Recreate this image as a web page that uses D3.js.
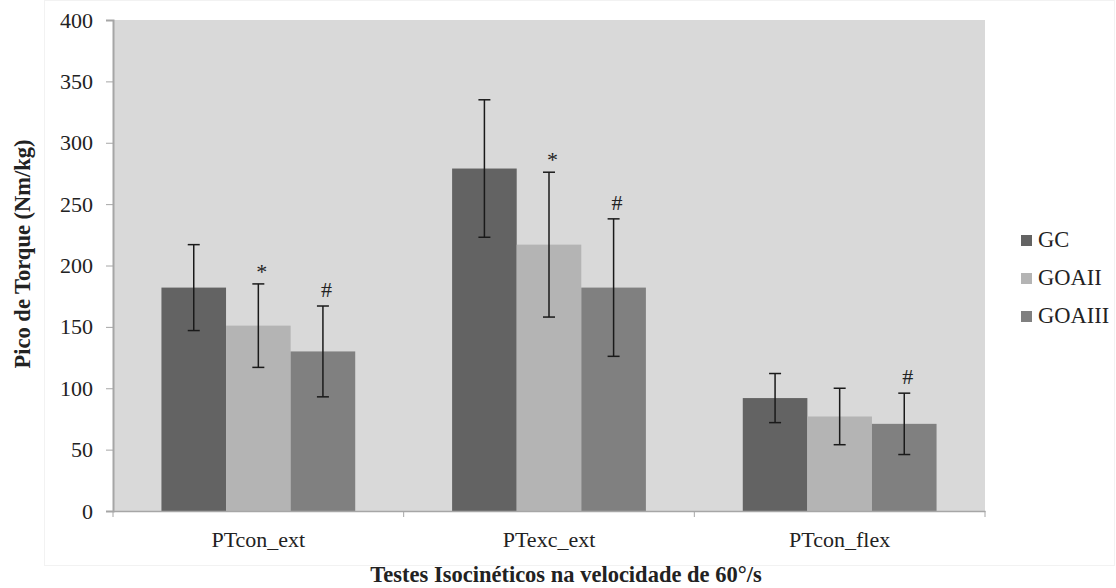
<!DOCTYPE html>
<html>
<head>
<meta charset="utf-8">
<script src="https://cdn.jsdelivr.net/npm/d3@7"></script>
<style>
  body { margin: 0; background: #fff; }
  text { font-family: "Liberation Serif", "Times New Roman", serif; fill: #222; }
</style>
</head>
<body>
<svg width="1116" height="588"></svg>
<script>
// data
var categories = ["PTcon_ext", "PTexc_ext", "PTcon_flex"];
var groups = ["GC", "GOAII", "GOAIII"];
var gcMean = [182, 279, 92];
var gcErr = [35, 56, 20];
var goa2Mean = [151, 217, 77];
var goa2Err = [34, 59, 23];
var goa3Mean = [130, 182, 71];
var goa3Err = [37, 56, 25];
// significance marks per group (by category)
var goa2Marks = ["*", "*", ""];
var goa3Marks = ["#", "#", "#"];
var yTicks = [0, 50, 100, 150, 200, 250, 300, 350, 400];
var colors = ["#636363", "#b4b4b4", "#808080"];

var means = [gcMean, goa2Mean, goa3Mean],
	errs = [gcErr, goa2Err, goa3Err],
	marks = [[], goa2Marks, goa3Marks];

var svg = d3.select("svg"),
	margin = {left: 113, right: 131, top: 20, bottom: 77},
	width = +svg.attr("width") - margin.left - margin.right,
	height = +svg.attr("height") - margin.top - margin.bottom;

// faint chart border
svg.append("rect").attr("x", 44.5).attr("y", 0.5).attr("width", 1070).attr("height", 565)
	.attr("fill", "none").attr("stroke", "#f2f2f2");

var g = svg.append("g").attr("transform", "translate(" + margin.left + "," + margin.top + ")");

var x0 = d3.scaleBand().domain(categories).range([0, width]).paddingInner(0).paddingOuter(0);
var x1 = d3.scaleBand().domain(groups).range([0, x0.bandwidth()]).paddingInner(0).paddingOuter(0.75);
var y = d3.scaleLinear().domain([0, 400]).range([height, 0]);

g.append("rect").attr("width", width).attr("height", height).attr("fill", "#d9d9d9");

var rows = [];
categories.forEach(function(c, i) {
	groups.forEach(function(s, j) {
		rows.push({cat: c, grp: s, j: j, v: means[j][i], e: errs[j][i], m: marks[j][i] || ""});
	});
});

g.append("g").selectAll("rect").data(rows).enter().append("rect")
	.attr("x", function(d) { return x0(d.cat) + x1(d.grp); })
	.attr("y", function(d) { return y(d.v); })
	.attr("width", x1.bandwidth())
	.attr("height", function(d) { return height - y(d.v); })
	.attr("fill", function(d) { return colors[d.j]; });

var eb = g.append("g").attr("stroke", "#1a1a1a").attr("stroke-width", 1.5)
	.selectAll("g").data(rows).enter().append("g")
	.attr("transform", function(d) { return "translate(" + (x0(d.cat) + x1(d.grp) + x1.bandwidth() / 2) + ",0)"; });
eb.append("line").attr("y1", function(d) { return y(d.v + d.e); }).attr("y2", function(d) { return y(d.v - d.e); });
eb.append("line").attr("x1", -6).attr("x2", 6).attr("y1", function(d) { return y(d.v + d.e); }).attr("y2", function(d) { return y(d.v + d.e); });
eb.append("line").attr("x1", -6).attr("x2", 6).attr("y1", function(d) { return y(d.v - d.e); }).attr("y2", function(d) { return y(d.v - d.e); });

g.append("g").selectAll("text").data(rows.filter(function(d) { return d.m; })).enter().append("text")
	.attr("x", function(d) { return x0(d.cat) + x1(d.grp) + x1.bandwidth() / 2 + 3.5; })
	.attr("y", function(d) { return y(d.v + d.e) - (d.m == "*" ? 5 : 9); })
	.attr("text-anchor", "middle")
	.style("font-size", "22px")
	.text(function(d) { return d.m; });

// axes
var yAxis = g.append("g").attr("font-family", "Liberation Serif")
	.call(d3.axisLeft(y).tickValues(yTicks).tickSize(7).tickPadding(13));
yAxis.attr("font-family", "Liberation Serif");
yAxis.select(".domain").attr("stroke", "#a6a6a6").attr("stroke-width", 2);
yAxis.selectAll(".tick line").attr("stroke", "#a6a6a6");
yAxis.selectAll("text").style("font-size", "22px").attr("fill", "#222").style("font-family", "Liberation Serif");

var xAxis = g.append("g").attr("transform", "translate(0," + height + ")")
	.call(d3.axisBottom(x0).tickSize(0).tickPadding(20));
xAxis.attr("font-family", "Liberation Serif");
xAxis.select(".domain").attr("stroke", "#a6a6a6").attr("stroke-width", 1.5);
xAxis.selectAll("text").style("font-size", "22px").attr("fill", "#222").style("font-family", "Liberation Serif");
xAxis.append("g").selectAll("line").data(d3.range(categories.length + 1)).enter().append("line")
	.attr("x1", function(i) { return i * x0.step(); }).attr("x2", function(i) { return i * x0.step(); })
	.attr("y1", 0).attr("y2", 6).attr("stroke", "#a6a6a6");

svg.append("text").attr("x", margin.left + width / 2 + 17).attr("y", 582)
	.attr("text-anchor", "middle").style("font-size", "22.5px").style("font-weight", "bold")
	.text("Testes Isocinéticos na velocidade de 60°/s");

svg.append("text").attr("transform", "translate(30,254) rotate(-90)")
	.attr("text-anchor", "middle").style("font-size", "22.5px").style("font-weight", "bold")
	.text("Pico de Torque (Nm/kg)");

// legend
var leg = svg.append("g").selectAll("g").data(groups).enter().append("g")
	.attr("transform", function(d, i) { return "translate(1021," + (247 + i * 38) + ")"; });
leg.append("rect").attr("x", 0).attr("y", -12).attr("width", 11).attr("height", 11)
	.attr("fill", function(d, i) { return colors[i]; });
leg.append("text").attr("x", 17).attr("y", 0).style("font-size", "22.5px").text(function(d) { return d; });
</script>
</body>
</html>
